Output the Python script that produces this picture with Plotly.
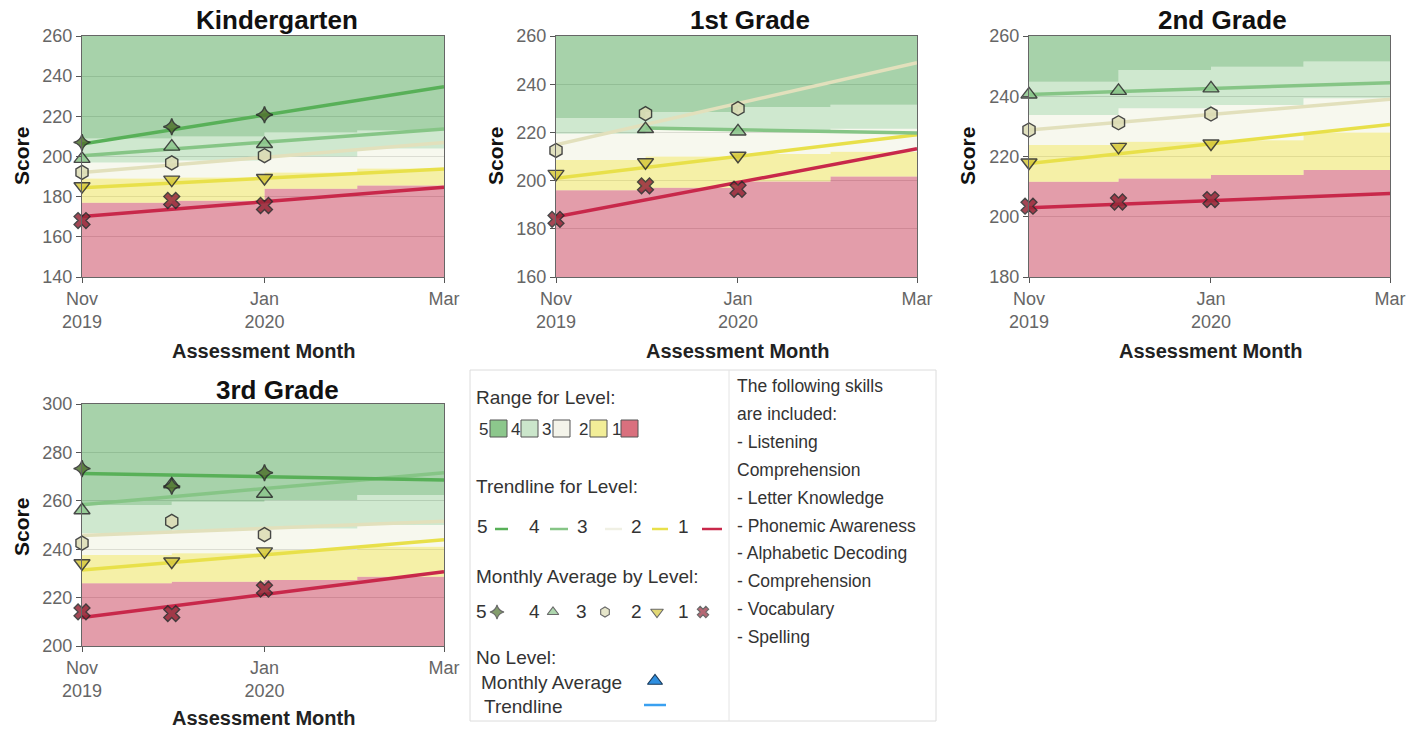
import plotly.graph_objects as go

W, H = 1407, 729

# ---------------- data ----------------
months = ['2019-11-01', '2019-12-01', '2020-01-01']
band_x = ['2019-11-01', '2019-12-01', '2020-01-01', '2020-02-01', '2020-03-01']
trend_x = ['2019-11-01', '2020-03-01']
trend_x_dec = ['2019-12-01', '2020-03-01']
x_tickvals = ['2019-11-01', '2020-01-01', '2020-03-01']
x_ticktext = ['Nov<br>2019', 'Jan<br>2020', 'Mar']

grade_names = ['Kindergarten', '1st Grade', '2nd Grade', '3rd Grade']
y_ranges = [[140, 260], [160, 260], [180, 260], [200, 300]]

# monthly averages by level (Nov, Dec, Jan)
kg_avg5 = [207.0, 214.8, 220.8]
kg_avg4 = [198.8, 204.9, 206.2]
kg_avg3 = [192.1, 196.8, 200.4]
kg_avg2 = [185.2, 188.5, 189.3]
kg_avg1 = [168.1, 178.1, 175.6]

g1_avg5 = [None, None, None]
g1_avg4 = [None, 221.4, 220.4]
g1_avg3 = [212.5, 227.8, 229.9]
g1_avg2 = [202.8, 207.6, 210.3]
g1_avg1 = [183.9, 197.8, 196.4]

g2_avg5 = [None, None, None]
g2_avg4 = [240.6, 241.8, 242.6]
g2_avg3 = [228.8, 231.2, 234.1]
g2_avg2 = [218.0, 223.2, 224.3]
g2_avg1 = [203.5, 204.9, 205.7]

g3_avg5 = [273.3, 266.0, 271.6]
g3_avg4 = [256.1, 266.8, 262.9]
g3_avg3 = [242.5, 251.5, 246.0]
g3_avg2 = [234.2, 234.9, 239.1]
g3_avg1 = [214.1, 213.4, 223.5]

# trendlines by level (start, end)
kg_tr5 = [206.2, 234.7]
kg_tr4 = [200.4, 213.7]
kg_tr3 = [192.0, 207.0]
kg_tr2 = [184.4, 193.8]
kg_tr1 = [170.1, 184.7]

g1_tr5 = None
g1_tr4 = [221.8, 219.7]   # starts in December
g1_tr3 = [214.9, 248.9]
g1_tr2 = [201.0, 219.0]
g1_tr1 = [185.0, 213.2]

g2_tr5 = None
g2_tr4 = [240.6, 244.5]
g2_tr3 = [228.8, 239.0]
g2_tr2 = [217.7, 230.6]
g2_tr1 = [203.0, 207.7]

g3_tr5 = [271.3, 268.6]
g3_tr4 = [258.4, 271.6]
g3_tr3 = [245.7, 251.5]
g3_tr2 = [231.4, 243.9]
g3_tr1 = [211.8, 230.7]

# level range boundaries per month (Nov, Dec, Jan, Feb)
kg_b12 = [177.0, 178.0, 184.0, 185.5]
kg_b23 = [189.0, 189.5, 192.0, 194.0]
kg_b34 = [197.0, 198.0, 200.0, 204.0]
kg_b45 = [209.0, 210.0, 212.0, 213.0]

g1_b12 = [196.0, 197.0, 199.6, 201.7]
g1_b23 = [208.5, 210.0, 211.0, 212.0]
g1_b34 = [219.4, 221.0, 221.0, 221.5]
g1_b45 = [226.0, 228.5, 230.5, 231.5]

g2_b12 = [211.6, 212.7, 213.9, 215.5]
g2_b23 = [223.8, 224.9, 225.4, 228.0]
g2_b34 = [233.8, 236.0, 237.1, 239.3]
g2_b45 = [244.8, 248.7, 249.8, 251.5]

g3_b12 = [225.9, 226.6, 227.3, 228.6]
g3_b23 = [237.6, 238.3, 239.7, 241.0]
g3_b34 = [246.6, 247.9, 248.6, 250.0]
g3_b45 = [258.3, 259.6, 260.3, 262.4]

skills = ['The following skills', 'are included:', '- Listening', 'Comprehension',
          '- Letter Knowledge', '- Phonemic Awareness', '- Alphabetic Decoding',
          '- Comprehension', '- Vocabulary', '- Spelling']

# ---------------- styles ----------------
band_colors = {1: 'rgba(200,60,85,0.50)', 2: 'rgba(236,226,80,0.50)',
               3: 'rgba(232,236,205,0.35)', 4: 'rgba(130,195,130,0.38)',
               5: 'rgba(80,165,85,0.50)'}
trend_colors = {5: '#58b058', 4: '#86c586', 3: '#e2e0bc', 2: '#e8e04a', 1: '#c8284a'}
marker_fill = {5: '#50742e', 4: '#8cc68c', 3: '#dcdcb4', 2: '#d6c83c', 1: '#962838'}
marker_symbol = {5: 'star-diamond', 4: 'triangle-up', 3: 'hexagon', 2: 'triangle-down', 1: 'x'}
marker_size = {5: 12, 4: 14, 3: 14, 2: 14, 1: 14}
legend_sq = {5: '#8cc78c', 4: '#cbe6cb', 3: '#f4f4ea', 2: '#f2ee98', 1: '#d9707e'}

FONT = 'Liberation Sans, Arial, sans-serif'

# pixel positions: left, right, top, bottom
areas = [(82, 444, 36, 277), (556, 917, 36, 277), (1029, 1390, 36, 277), (82, 444, 404, 646)]
title_pos = [(277, 20), (750, 20), (1222, 20), (277, 390)]
score_pos = [(21, 156), (495, 156), (967, 156), (21, 527)]
month_pos = [(263, 351), (737, 351), (1210, 351), (263, 718)]


def fx(x):
    return x / W


def fy(y):
    return 1 - y / H


grades = [
    dict(avg=[kg_avg1, kg_avg2, kg_avg3, kg_avg4, kg_avg5], tr=[kg_tr1, kg_tr2, kg_tr3, kg_tr4, kg_tr5],
         b=[kg_b12, kg_b23, kg_b34, kg_b45], tr4x=trend_x),
    dict(avg=[g1_avg1, g1_avg2, g1_avg3, g1_avg4, g1_avg5], tr=[g1_tr1, g1_tr2, g1_tr3, g1_tr4, g1_tr5],
         b=[g1_b12, g1_b23, g1_b34, g1_b45], tr4x=trend_x_dec),
    dict(avg=[g2_avg1, g2_avg2, g2_avg3, g2_avg4, g2_avg5], tr=[g2_tr1, g2_tr2, g2_tr3, g2_tr4, g2_tr5],
         b=[g2_b12, g2_b23, g2_b34, g2_b45], tr4x=trend_x),
    dict(avg=[g3_avg1, g3_avg2, g3_avg3, g3_avg4, g3_avg5], tr=[g3_tr1, g3_tr2, g3_tr3, g3_tr4, g3_tr5],
         b=[g3_b12, g3_b23, g3_b34, g3_b45], tr4x=trend_x),
]

fig = go.Figure()
layout = dict(width=W, height=H, margin=dict(l=0, r=0, t=0, b=0, autoexpand=False),
              paper_bgcolor='white', plot_bgcolor='rgba(0,0,0,0)', showlegend=False,
              font=dict(family=FONT, color='#333'))
annotations = []
shapes = []

for i, g in enumerate(grades):
    n = i + 1
    xa = 'x' if n == 1 else f'x{n}'
    ya = 'y' if n == 1 else f'y{n}'
    l, r, t, b = areas[i]
    ymin, ymax = y_ranges[i]
    # bands
    for k, edge in enumerate(g['b']):
        yv = edge + [edge[-1]]
        fig.add_trace(go.Scatter(x=band_x, y=yv, mode='lines', line=dict(width=0, shape='hv'),
                                 fill='tozeroy' if k == 0 else 'tonexty',
                                 fillcolor=band_colors[k + 1], hoverinfo='skip',
                                 xaxis=xa, yaxis=ya))
    fig.add_trace(go.Scatter(x=band_x, y=[ymax] * len(band_x), mode='lines',
                             line=dict(width=0, shape='hv'), fill='tonexty',
                             fillcolor=band_colors[5], hoverinfo='skip', xaxis=xa, yaxis=ya))
    # trendlines
    for lev in [3, 1, 2, 4, 5]:
        tr = g['tr'][lev - 1]
        if tr is None:
            continue
        tx = g['tr4x'] if lev == 4 else trend_x
        fig.add_trace(go.Scatter(x=tx, y=tr, mode='lines',
                                 line=dict(color=trend_colors[lev], width=3.5),
                                 hoverinfo='skip', xaxis=xa, yaxis=ya))
    # monthly averages
    for lev in [1, 2, 3, 4, 5]:
        av = g['avg'][lev - 1]
        if all(v is None for v in av):
            continue
        fig.add_trace(go.Scatter(x=months, y=av, mode='markers', cliponaxis=False,
                                 marker=dict(symbol=marker_symbol[lev], size=marker_size[lev],
                                             color=marker_fill[lev], opacity=0.85,
                                             line=dict(color='#2a2a2a', width=1.4)),
                                 xaxis=xa, yaxis=ya))
    axis_common = dict(showline=True, linecolor='#666', linewidth=1, mirror=True,
                       ticks='outside', ticklen=5, tickcolor='#555', automargin=False,
                       tickfont=dict(family=FONT, size=18, color='#666'))
    layout['xaxis' if n == 1 else f'xaxis{n}'] = dict(
        domain=[fx(l), fx(r)], anchor=ya, type='date', range=['2019-11-01', '2020-03-01'],
        tickvals=x_tickvals, ticktext=x_ticktext, showgrid=False, zeroline=False, **axis_common)
    layout['yaxis' if n == 1 else f'yaxis{n}'] = dict(
        domain=[fy(b), fy(t)], anchor=xa, range=[ymin, ymax], dtick=20,
        showgrid=True, gridcolor='rgba(0,0,0,0.16)', gridwidth=1, zeroline=False, **axis_common)
    cx, cy = title_pos[i]
    annotations.append(dict(text='<b>' + grade_names[i] + '</b>', x=fx(cx), y=fy(cy),
                            xref='paper', yref='paper', showarrow=False,
                            xanchor='center', yanchor='middle',
                            font=dict(family=FONT, size=26, color='#111')))
    sx, sy = score_pos[i]
    annotations.append(dict(text='<b>Score</b>', x=fx(sx), y=fy(sy), xref='paper', yref='paper',
                            showarrow=False, textangle=-90, xanchor='center', yanchor='middle',
                            font=dict(family=FONT, size=21, color='#111')))
    mx, my = month_pos[i]
    annotations.append(dict(text='<b>Assessment Month</b>', x=fx(mx), y=fy(my),
                            xref='paper', yref='paper', showarrow=False,
                            xanchor='center', yanchor='middle',
                            font=dict(family=FONT, size=20, color='#222')))

# ---------------- custom legend (pixel helper axis) ----------------
LX0, LX1, LY0, LY1 = 465, 941, 365, 726
layout['xaxis5'] = dict(domain=[fx(LX0), fx(LX1)], range=[LX0, LX1], visible=False,
                        anchor='y5', fixedrange=True, automargin=False)
layout['yaxis5'] = dict(domain=[fy(LY1), fy(LY0)], range=[LY1, LY0], visible=False,
                        anchor='x5', fixedrange=True, automargin=False)


def txt(s, x, y, size=19, anchor='left'):
    annotations.append(dict(text=s, x=x, y=y, xref='x5', yref='y5', showarrow=False,
                            xanchor=anchor, yanchor='middle',
                            font=dict(family=FONT, size=size, color='#333')))


shapes.append(dict(type='rect', xref='x5', yref='y5', x0=470, x1=936, y0=370, y1=721,
                   line=dict(color='#dcdcdc', width=1), fillcolor='rgba(0,0,0,0)'))
shapes.append(dict(type='line', xref='x5', yref='y5', x0=729, x1=729, y0=370, y1=721,
                   line=dict(color='#e4e4e4', width=1)))

row_levels = [5, 4, 3, 2, 1]

txt('Range for Level:', 474, 397)
num_x = [477, 509, 540, 577, 610]
sq_x = [490, 521, 553, 590, 621]
for lev, nx, sxx in zip(row_levels, num_x, sq_x):
    txt(str(lev), nx, 429, size=17)
    shapes.append(dict(type='rect', xref='x5', yref='y5', x0=sxx, x1=sxx + 17, y0=420, y1=437,
                       fillcolor=legend_sq[lev], line=dict(color='#555', width=1)))

txt('Trendline for Level:', 474, 486)
tnum_x = [475, 527, 575, 629, 676]
tl_x = [495, 550, 605, 652, 702]
tl_w = [13, 18, 17, 16, 20]
for lev, nx, lx, lw in zip(row_levels, tnum_x, tl_x, tl_w):
    txt(str(lev), nx, 526)
    shapes.append(dict(type='line', xref='x5', yref='y5', x0=lx, x1=lx + lw, y0=529, y1=529,
                       line=dict(color=trend_colors[lev] if lev != 3 else '#f0f0e4', width=2.5)))

txt('Monthly Average by Level:', 474, 576)
mnum_x = [474, 527, 574, 629, 676]
mk_x = [497, 553, 605, 657, 703]
for lev, nx in zip(row_levels, mnum_x):
    txt(str(lev), nx, 611)
fig.add_trace(go.Scatter(x=mk_x, y=[612] * 5, mode='markers', xaxis='x5', yaxis='y5',
                         cliponaxis=False, hoverinfo='skip',
                         marker=dict(symbol=[marker_symbol[v] for v in row_levels],
                                     size=[10, 10, 10, 11, 10],
                                     color=[marker_fill[v] for v in row_levels],
                                     line=dict(color='#2a2a2a', width=1.1))))

txt('No Level:', 474, 657)
txt('Monthly Average', 479, 682)
txt('Trendline', 482, 706)
fig.add_trace(go.Scatter(x=[655], y=[681], mode='markers', xaxis='x5', yaxis='y5',
                         cliponaxis=False, hoverinfo='skip',
                         marker=dict(symbol='triangle-up', size=13, color='#2f8fe0',
                                     line=dict(color='#1a3a5a', width=1.2))))
shapes.append(dict(type='line', xref='x5', yref='y5', x0=644, x1=666, y0=705, y1=705,
                   line=dict(color='#3aa0f0', width=2.5)))

for j, s in enumerate(skills):
    txt(s, 735, 386 + 27.9 * j, size=17.5)

layout['annotations'] = annotations
layout['shapes'] = shapes
fig.update_layout(**layout)
fig.write_html('out.html', config={'displayModeBar': False},
               post_script="document.body.style.margin='0';document.body.style.overflow='hidden';")
